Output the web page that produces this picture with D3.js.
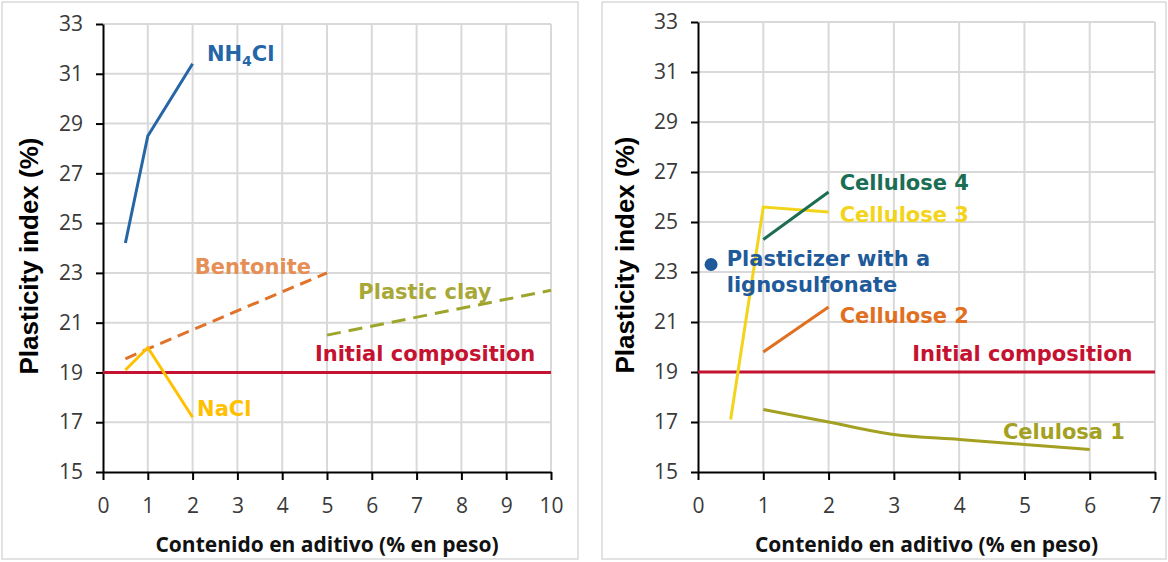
<!DOCTYPE html>
<html><head><meta charset="utf-8">
<script src="https://cdn.jsdelivr.net/npm/d3@7"></script>
<style>body{margin:0;background:#fff}svg{display:block}</style>
</head><body><svg id="c" width="1168" height="562"></svg>
<script>
// ---- data ----
const yTicks = [15, 17, 19, 21, 23, 25, 27, 29, 31, 33];
const leftXTicks = [0, 1, 2, 3, 4, 5, 6, 7, 8, 9, 10];
const rightXTicks = [0, 1, 2, 3, 4, 5, 6, 7];
const nh4cl = [[0.5, 24.2], [1, 28.5], [2, 31.4]];
const nacl = [[0.5, 19.1], [1, 20.0], [2, 17.2]];
const bentonite = [[0.5, 19.55], [1, 19.95], [5, 23.0]];
const plasticClay = [[5, 20.5], [10, 22.3]];
const initialLeft = [[0, 19], [10, 19]];
const celulosa1 = [[1, 17.5], [2, 17.0], [3, 16.5], [4, 16.3], [5, 16.1], [6, 15.9]];
const cellulose2 = [[1, 19.8], [2, 21.6]];
const cellulose3 = [[0.5, 17.1], [1, 25.6], [2, 25.4]];
const cellulose4 = [[1, 24.3], [2, 26.2]];
const plasticizer = [[0.2, 23.3]];
const initialRight = [[0, 19], [7, 19]];
const yTitle = "Plasticity index (%)";
const xTitle = "Contenido en aditivo (% en peso)";

const svg = d3.select("#c");
const C = {
  blue: "#2566a6", gold: "#ffc000", orange: "#e0722a", orangeTxt: "#e58e55",
  olive: "#9ea52c", oliveTxt: "#a8a838", red: "#c41230", green: "#1b6e54",
  yellow: "#f2d41a", orange2: "#e0701f", olive1: "#a3a022", pblue: "#1f5a9a"
};

function panel(o) {
  const g = svg.append("g");
  g.append("rect").attr("x", o.box[0]).attr("y", o.box[1])
    .attr("width", o.box[2]).attr("height", o.box[3])
    .attr("fill", "#fff").attr("stroke", "#d9d9d9").attr("stroke-width", 1.5);
  const x = d3.scaleLinear().domain(o.xDom).range(o.xRange);
  const y = d3.scaleLinear().domain([15, 33]).range(o.yRange);
  // grid
  g.append("g").selectAll("line.v").data(o.xTicks.slice(1)).join("line")
    .attr("x1", d => x(d)).attr("x2", d => x(d)).attr("y1", y(15)).attr("y2", y(33))
    .attr("stroke", "#d9d9d9").attr("stroke-width", 2);
  g.append("g").selectAll("line.h").data(yTicks.slice(1)).join("line")
    .attr("x1", x(o.xDom[0])).attr("x2", x(o.xDom[1])).attr("y1", d => y(d)).attr("y2", d => y(d))
    .attr("stroke", "#d9d9d9").attr("stroke-width", 2);
  // axes
  const ax = g.append("g").attr("transform", `translate(0,${y(15)})`)
    .call(d3.axisBottom(x).tickValues(o.xTicks).tickSize(8).tickSizeOuter(0).tickPadding(18).tickFormat(d3.format("d")));
  const ay = g.append("g").attr("transform", `translate(${x(0)},0)`)
    .call(d3.axisLeft(y).tickValues(yTicks).tickSize(7).tickSizeOuter(0).tickPadding(13).tickFormat(d3.format("d")));
  [ax, ay].forEach(a => {
    a.select(".domain").attr("stroke", "#000").attr("stroke-width", 2);
    a.selectAll(".tick line").attr("stroke", "#000").attr("stroke-width", 2);
    a.selectAll(".tick text").attr("fill", "#3a3a3a").attr("font-family", "Open Sans, sans-serif").attr("font-size", 21);
  });
  // titles
  g.append("text").attr("transform", `translate(${o.yTitleX},${(y(15) + y(33)) / 2 + 8}) rotate(-90)`)
    .attr("text-anchor", "middle").attr("font-family", "Liberation Sans, Arial, sans-serif")
    .attr("font-weight", 700).attr("font-size", 26).attr("fill", "#000").text(yTitle);
  g.append("text").attr("x", (x(o.xDom[0]) + x(o.xDom[1])) / 2).attr("y", 552)
    .attr("text-anchor", "middle").attr("font-family", "Open Sans, sans-serif")
    .attr("font-weight", 700).attr("font-size", 21).attr("fill", "#111").text(xTitle);
  // series
  const line = d3.line().x(d => x(d[0])).y(d => y(d[1]));
  o.series.forEach(s => {
    if (s.dot) {
      g.append("g").selectAll("circle").data(s.data).join("circle")
        .attr("cx", d => x(d[0])).attr("cy", d => y(d[1])).attr("r", 6.5).attr("fill", s.color);
      return;
    }
    g.append("path").datum(s.data)
      .attr("d", s.curve ? d3.line().curve(s.curve).x(d => x(d[0])).y(d => y(d[1])) : line)
      .attr("fill", "none").attr("stroke", s.color).attr("stroke-width", s.w || 3)
      .attr("stroke-dasharray", s.dash || null);
  });
  // labels
  o.labels.forEach(l => {
    const t = g.append("text").attr("x", x(l.x)).attr("y", y(l.y))
      .attr("font-family", "DejaVu Sans, Verdana, sans-serif").attr("font-weight", 700)
      .attr("font-size", 21).attr("fill", l.color);
    if (l.parts) {
      l.parts.forEach(p => {
        const ts = t.append("tspan").text(p[0]);
        if (p[1]) ts.attr("font-size", 14).attr("dy", 5);
        else if (p[2]) ts.attr("dy", -5);
      });
    } else t.text(l.text);
  });
}

panel({
  box: [2, 2, 576, 557], xDom: [0, 10], xRange: [103, 551], yRange: [472, 24],
  xTicks: leftXTicks, yTitleX: 38,
  series: [
    { data: initialLeft, color: C.red },
    { data: bentonite, color: C.orange, dash: "12,7" },
    { data: plasticClay, color: C.olive, dash: "14,8" },
    { data: nacl, color: C.gold },
    { data: nh4cl, color: C.blue }
  ],
  labels: [
    { parts: [["NH"], ["4", true], ["Cl", false, true]], x: 2.32, y: 31.5, color: C.blue },
    { text: "Bentonite", x: 2.05, y: 22.95, color: C.orangeTxt },
    { text: "Plastic clay", x: 5.7, y: 21.95, color: C.oliveTxt },
    { text: "NaCl", x: 2.1, y: 17.25, color: C.gold },
    { text: "Initial composition", x: 4.73, y: 19.45, color: C.red }
  ]
});

panel({
  box: [602, 2, 564, 557], xDom: [0, 7], xRange: [698, 1155], yRange: [472, 22],
  xTicks: rightXTicks, yTitleX: 634,
  series: [
    { data: initialRight, color: C.red },
    { data: celulosa1, color: C.olive1, curve: d3.curveMonotoneX },
    { data: cellulose2, color: C.orange2 },
    { data: cellulose3, color: C.yellow },
    { data: cellulose4, color: C.green },
    { data: plasticizer, color: C.pblue, dot: true }
  ],
  labels: [
    { text: "Cellulose 4", x: 2.17, y: 26.28, color: C.green },
    { text: "Cellulose 3", x: 2.17, y: 25.0, color: C.yellow },
    { text: "Plasticizer with a", x: 0.44, y: 23.24, color: C.pblue },
    { text: "lignosulfonate", x: 0.44, y: 22.22, color: C.pblue },
    { text: "Cellulose 2", x: 2.17, y: 20.96, color: C.orange2 },
    { text: "Initial composition", x: 3.28, y: 19.44, color: C.red },
    { text: "Celulosa 1", x: 4.67, y: 16.32, color: C.olive1 }
  ]
});
</script></body></html>
